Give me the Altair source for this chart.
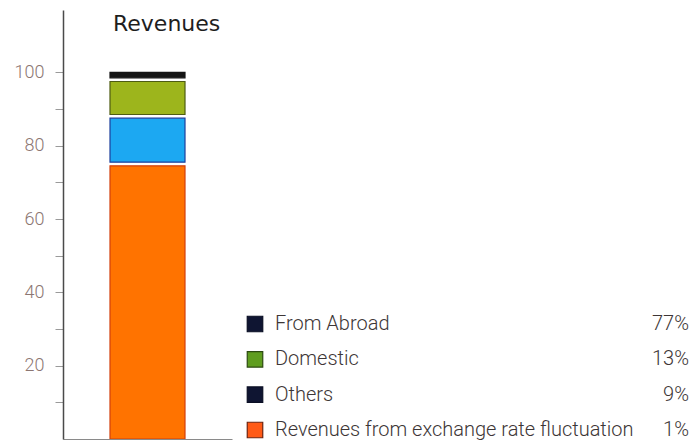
import altair as alt
import pandas as pd

title_text = ["Revenues"]

# Bar segments, bottom to top (as drawn in the bar)
bar_segments = ["From Abroad", "Domestic", "Others", "Exchange rate fluctuation"]
bar_values = [75, 13, 10, 2]
bar_fill = ["#ff7300", "#1ca8f2", "#9db51c", "#141414"]
bar_stroke = ["#d2400c", "#1d3f9c", "#4e5c12", "#141414"]

# Legend (as printed)
legend_names = ["From Abroad", "Domestic", "Others", "Revenues from exchange rate fluctuation"]
legend_pct = ["77%", "13%", "9%", "1%"]
legend_fill = ["#0f1532", "#5f9d1f", "#0f1532", "#ff5a16"]
legend_stroke = ["#0a0f24", "#2c4a10", "#0a0f24", "#6e2410"]

y_ticks = [10, 20, 30, 40, 50, 60, 70, 80, 90, 100]

# build stacked table with small gaps between segments
rows = []
start = 0
total = sum(bar_values)
for name, v, f, s in zip(bar_segments, bar_values, bar_fill, bar_stroke):
    end = start + v
    lo = start + (0.5 if start > 0 else 0)
    hi = end - (0.5 if end < total else 0)
    rows.append({"cat": "Revenues", "segment": name, "lo": lo, "hi": hi, "fill": f, "stroke": s})
    start = end
bar_df = pd.DataFrame(rows)

leg_df = pd.DataFrame({
    "name": legend_names,
    "pct": legend_pct,
    "fill": legend_fill,
    "stroke": legend_stroke,
})

bars = alt.Chart(bar_df).mark_bar(size=75, strokeWidth=1.2, clip=True).encode(
    x=alt.X("cat:N", title=None,
            scale=alt.Scale(paddingInner=0, paddingOuter=0),
            axis=alt.Axis(labels=False, ticks=False, domainColor="#8a8a8a", domainWidth=1.2)),
    y=alt.Y("lo:Q", title=None,
            scale=alt.Scale(domain=[0, 117], nice=False, zero=False),
            axis=alt.Axis(values=y_ticks,
                          labelExpr="datum.value % 20 == 0 ? datum.label : ''",
                          tickSize=8, tickColor="#9a9a9a", tickWidth=1,
                          domainColor="#4a4a4a", domainWidth=1.5,
                          labelFont="Roboto", labelFontWeight=300,
                          labelFontSize=18, labelColor="#8c7672",
                          labelPadding=11, grid=False)),
    y2="hi:Q",
    fill=alt.Fill("fill:N", scale=None),
    stroke=alt.Stroke("stroke:N", scale=None),
)

title = alt.Chart(pd.DataFrame({"t": title_text})).mark_text(
    align="left", baseline="alphabetic", font="DejaVu Sans", fontSize=22, color="#1e1e1e"
).encode(x=alt.value(50), y=alt.value(21), text="t:N")

order = legend_names
ypos = alt.Y("name:N", sort=order, axis=None,
             scale=alt.Scale(type="point", range=[314, 420], padding=0))

swatch = alt.Chart(leg_df).mark_square(size=240, strokeWidth=1.2, filled=True, opacity=1).encode(
    x=alt.value(192),
    y=ypos,
    fill=alt.Fill("fill:N", scale=None),
    stroke=alt.Stroke("stroke:N", scale=None),
)

labels = alt.Chart(leg_df).mark_text(align="left", baseline="middle", font="Roboto",
                                     fontWeight=300, fontSize=20, color="#3d3636").encode(
    x=alt.value(212),
    y=ypos,
    text="name:N",
)

pcts = alt.Chart(leg_df).mark_text(align="right", baseline="middle", font="Roboto",
                                   fontWeight=300, fontSize=20, color="#3d3636").encode(
    x=alt.value(626),
    y=ypos,
    text="pct:N",
)

legend = alt.layer(swatch, labels, pcts)

chart = alt.layer(bars, title, legend).resolve_scale(y="independent").properties(
    width=169,
    height=429,
    autosize=alt.AutoSizeParams(type="none"),
    padding={"left": 55, "top": 2, "right": 458, "bottom": 1},
).configure_view(stroke=None)

chart.save("out.html", embed_options={"renderer": "svg", "actions": False})
